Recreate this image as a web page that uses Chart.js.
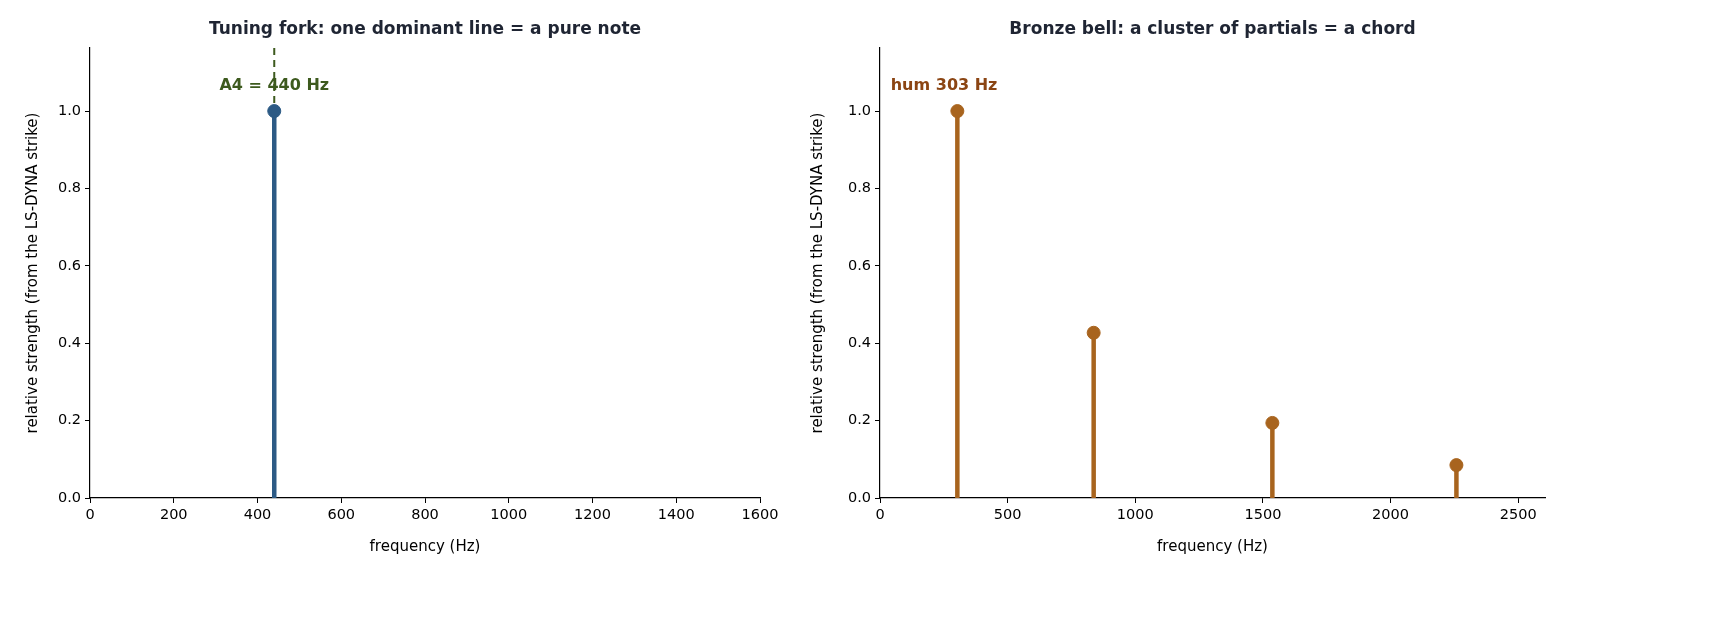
<!DOCTYPE html>
<html><head><meta charset="utf-8">
<script src="https://cdn.jsdelivr.net/npm/chart.js@4/dist/chart.umd.min.js"></script>
<style>
body{margin:0;background:#fff;width:1710px;height:630px;overflow:hidden;position:relative}
.box{position:absolute;top:0;height:630px}
</style></head><body>
<div class="box" style="left:0;width:790px"><canvas id="fork"></canvas></div>
<div class="box" style="left:790px;width:920px"><canvas id="bell"></canvas></div>
<script>
/* fork / bell spectra */
const forkFreq = [440];
const forkAmp = [1.0];
const bellFreq = [303, 837, 1537, 2258];
const bellAmp = [1.0, 0.427, 0.194, 0.085];
const yTicks = [0, 0.2, 0.4, 0.6, 0.8, 1.0];
const forkXTicks = [0, 200, 400, 600, 800, 1000, 1200, 1400, 1600];
const bellXTicks = [0, 500, 1000, 1500, 2000, 2500];

const FONT = "'DejaVu Sans', sans-serif";

/* stems + title + notes drawn with the chart's own scales */
const stemPlugin = {
  id: 'stems',
  beforeDatasetsDraw(chart) {
    const { ctx, scales: { x, y } } = chart;
    const ds = chart.data.datasets[0];
    ctx.save();
    ctx.strokeStyle = ds.backgroundColor;
    ctx.lineWidth = 4.5;
    ds.data.forEach(p => {
      ctx.beginPath();
      ctx.moveTo(x.getPixelForValue(p.x), y.getPixelForValue(0));
      ctx.lineTo(x.getPixelForValue(p.x), y.getPixelForValue(p.y));
      ctx.stroke();
    });
    ctx.restore();
  },
  afterDraw(chart, args, opts) {
    const { ctx, chartArea: a, scales: { x, y } } = chart;
    ctx.save();
    ctx.fillStyle = '#1f2533';
    ctx.font = 'bold 17px ' + FONT;
    ctx.textAlign = 'center';
    ctx.textBaseline = 'middle';
    ctx.fillText(opts.title, (a.left + a.right) / 2, 30);
    if (opts.dash != null) {
      ctx.strokeStyle = opts.noteColor;
      ctx.lineWidth = 2;
      ctx.setLineDash([7, 5]);
      ctx.beginPath();
      ctx.moveTo(x.getPixelForValue(opts.dash), a.top);
      ctx.lineTo(x.getPixelForValue(opts.dash), y.getPixelForValue(1.0) - 8);
      ctx.stroke();
    }
    ctx.font = 'bold 16px ' + FONT;
    ctx.fillStyle = opts.noteColor;
    ctx.textAlign = opts.noteAlign;
    ctx.fillText(opts.note, x.getPixelForValue(opts.noteX), y.getPixelForValue(1.065));
    ctx.restore();
  }
};

function makeChart(id, freq, amp, color, xTicks, xMax, padLeft, padRight, notes) {
  const keep = vals => axis => { axis.ticks = vals.map(v => ({ value: v })); };
  const axisCommon = {
    border: { color: '#000', width: 1.2 },
    grid: { drawOnChartArea: false, drawTicks: true, tickLength: 5, color: '#000' },
    ticks: { color: '#000', font: { family: FONT, size: 14.5 }, padding: 4 }
  };
  return new Chart(document.getElementById(id), {
    type: 'scatter',
    data: {
      datasets: [{
        data: freq.map((f, i) => ({ x: f, y: amp[i] })),
        backgroundColor: color,
        borderColor: color,
        pointRadius: 6.5,
        pointHoverRadius: 6.5
      }]
    },
    options: {
      responsive: true,
      maintainAspectRatio: false,
      animation: false,
      layout: { padding: { top: 48, right: padRight, bottom: 70, left: padLeft } },
      plugins: { legend: { display: false }, tooltip: { enabled: false }, stems: notes },
      scales: {
        x: {
          ...axisCommon,
          type: 'linear', min: 0, max: xMax,
          afterBuildTicks: keep(xTicks),
          afterFit: s => { s.height = 62; },
          ticks: { ...axisCommon.ticks, maxRotation: 0, callback: v => String(v) },
          title: { display: true, text: 'frequency (Hz)', color: '#000', font: { family: FONT, size: 15 }, padding: { top: 4 } }
        },
        y: {
          ...axisCommon,
          min: 0, max: 1.163,
          afterBuildTicks: keep(yTicks),
          afterFit: s => { s.width = 90 - padLeft; },
          ticks: { ...axisCommon.ticks, callback: v => v.toFixed(1) },
          title: { display: true, text: 'relative strength (from the LS-DYNA strike)', color: '#000', font: { family: FONT, size: 15 }, padding: { bottom: 6 } }
        }
      }
    },
    plugins: [stemPlugin]
  });
}

makeChart('fork', forkFreq, forkAmp, '#2c5a85', forkXTicks, 1600, 20, 30, {
  title: 'Tuning fork: one dominant line = a pure note',
  note: 'A4 = 440 Hz', noteX: 440, noteAlign: 'center', noteColor: '#3d5a1e', dash: 440
});
makeChart('bell', bellFreq, bellAmp, '#a8641e', bellXTicks, 2605, 15, 165, {
  title: 'Bronze bell: a cluster of partials = a chord',
  note: 'hum 303 Hz', noteX: 42, noteAlign: 'left', noteColor: '#8b4513', dash: null
});
</script>
</body></html>
